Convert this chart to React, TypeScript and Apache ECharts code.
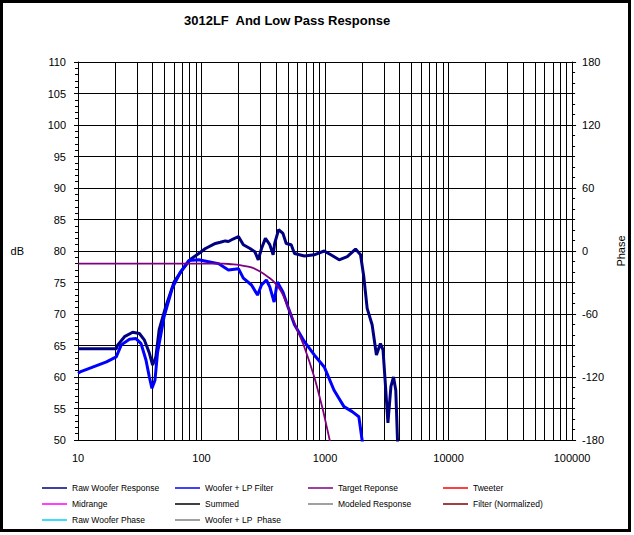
import React, { useEffect, useRef } from "react";
import * as echarts from "echarts";

const TITLE = "3012LF  And Low Pass Response";

const rawFreq = [10, 20.4, 21, 23.8, 27.7, 31.4, 34.4, 37.8, 40.2, 42.7, 45.4, 51.4, 60, 69.9, 81.5, 95, 107.6, 129.5, 142, 155.6, 165, 180, 199, 218, 247, 270, 288, 306, 329, 357, 380, 391, 421, 456, 485, 532, 566, 681, 818, 985, 1114, 1300, 1514, 1766, 1938, 2060, 2193, 2405, 2606, 2806, 2947, 3076, 3230, 3415, 3584, 3738, 3860, 3950];
const rawDb = [64.5, 64.5, 65.1, 66.4, 67.1, 66.9, 65.9, 63.8, 61.9, 63.2, 67.5, 71.2, 75.1, 77, 78.7, 79.6, 80.4, 81.2, 81.4, 81.6, 81.5, 81.9, 82.3, 81, 80.4, 79.9, 78.6, 80.4, 82, 81, 79.4, 81.2, 83.4, 82.8, 81.2, 81, 79.6, 79.2, 79.4, 80, 79.4, 78.6, 79.1, 80.3, 79.4, 75.9, 70.9, 68.3, 63.5, 65.3, 64.3, 59, 52.7, 58.5, 60, 57.9, 50, 45];

const lpFreq = [10, 10.4, 13.3, 17, 20.4, 22.4, 26.1, 29.5, 32.4, 35.5, 37.8, 39.7, 42, 44, 49.8, 58, 67.7, 79, 95, 114, 137, 165, 199, 218, 254, 284, 306, 335, 357, 387, 411, 456, 500, 566, 681, 818, 985, 1183, 1423, 1659, 1878, 1995, 2100];
const lpDb = [60.6, 60.8, 61.6, 62.4, 63.2, 65.1, 66, 66.1, 65.3, 62.7, 60, 58.2, 59.5, 63.8, 69.6, 74.1, 76.7, 78.5, 78.6, 78.3, 78, 77, 77.2, 75.7, 74.6, 73, 74.6, 75.4, 74.3, 71.9, 75.1, 73.5, 71.2, 68.3, 65.6, 63.5, 61.6, 57.9, 55.3, 54.5, 53.7, 50, 47];

const targetFreq = [10, 150, 175, 200, 253, 300, 350, 386, 450, 528, 600, 673, 818, 955, 1000, 1090, 1200];
const targetDb = [78, 78, 77.9, 77.8, 77.4, 76.7, 75.8, 75.1, 73.3, 70, 67.3, 65, 60, 55, 53.3, 50, 46];

const decades = [10, 100, 1000, 10000];
const multiples = [2, 3, 4, 5, 6, 7, 8, 9];

const legendCols = [
  ["Raw Woofer Response", "Midrange", "Raw Woofer Phase"],
  ["Woofer + LP Filter", "Summed", "Woofer + LP  Phase"],
  ["Target Reponse", "Modeled Response"],
  ["Tweeter", "Filter (Normalized)"],
];
const seriesColors: Record<string, string> = {
  "Raw Woofer Response": "#000080",
  "Woofer + LP Filter": "#0000ff",
  "Target Reponse": "#800080",
  "Tweeter": "#ff0000",
  "Midrange": "#ff00ff",
  "Summed": "#000000",
  "Modeled Response": "#808080",
  "Filter (Normalized)": "#800000",
  "Raw Woofer Phase": "#00ccff",
  "Woofer + LP  Phase": "#808080",
};

const FONT = "'Liberation Sans', Arial, sans-serif";

export default function App() {
  const ref = useRef<HTMLDivElement>(null);
  useEffect(() => {
    if (!ref.current) return;
    const chart = echarts.init(ref.current, null, { renderer: "svg" });
    const gridFreqs: number[] = [];
    decades.forEach((d) => multiples.forEach((m) => gridFreqs.push(d * m)));
    const pairs = (xs: number[], ys: number[]) => xs.map((x, i) => [x, ys[i]]);
    const emptyNames = ["Tweeter", "Midrange", "Summed", "Modeled Response", "Filter (Normalized)", "Raw Woofer Phase", "Woofer + LP  Phase"];
    const legendX = [42, 175, 308, 443];
    chart.setOption({
      animation: false,
      backgroundColor: "#ffffff",
      title: {
        text: TITLE,
        left: 184,
        top: 14,
        padding: 0,
        textStyle: { fontFamily: FONT, fontSize: 13, fontWeight: "bold", color: "#000" },
      },
      grid: { left: 78, right: 57, top: 62, bottom: 95 },
      xAxis: {
        type: "log",
        logBase: 10,
        min: 10,
        max: 100000,
        axisLine: { show: true, lineStyle: { color: "#000", width: 1 } },
        axisTick: { show: false },
        axisLabel: {
          color: "#000",
          fontFamily: FONT,
          fontSize: 11,
          margin: 12,
          formatter: (v: number) => String(Math.round(v)),
        },
        splitLine: { show: true, lineStyle: { color: "#000", width: 1 } },
      },
      yAxis: [
        {
          type: "value",
          min: 50,
          max: 110,
          interval: 5,
          name: "dB",
          nameLocation: "middle",
          nameRotate: 0,
          nameGap: 54,
          nameTextStyle: { color: "#000", fontFamily: FONT, fontSize: 11 },
          axisLine: { show: true, lineStyle: { color: "#000", width: 1 } },
          axisTick: { show: true, length: 4, lineStyle: { color: "#000" } },
          minorTick: { show: true, splitNumber: 5, length: 3, lineStyle: { color: "#000" } },
          axisLabel: { color: "#000", fontFamily: FONT, fontSize: 11, margin: 12 },
          splitLine: { show: true, lineStyle: { color: "#000", width: 1 } },
        },
        {
          type: "value",
          position: "right",
          min: -180,
          max: 180,
          interval: 60,
          name: "Phase",
          nameLocation: "middle",
          nameRotate: 90,
          nameGap: 30,
          nameTextStyle: { color: "#000", fontFamily: FONT, fontSize: 11 },
          axisLine: { show: true, lineStyle: { color: "#000", width: 1 } },
          axisTick: { show: true, length: 4, lineStyle: { color: "#000" } },
          minorTick: { show: true, splitNumber: 6, length: 3, lineStyle: { color: "#000" } },
          axisLabel: { color: "#000", fontFamily: FONT, fontSize: 11, margin: 10 },
          splitLine: { show: false },
        },
      ],
      legend: legendCols.map((names, i) => ({
        left: legendX[i],
        top: 480,
        orient: "vertical",
        data: names,
        icon: "rect",
        itemWidth: 25,
        itemHeight: 1.5,
        itemGap: 0,
        padding: 0,
        selectedMode: false,
        textStyle: { color: "#000", fontFamily: FONT, fontSize: 8.5, lineHeight: 16 },
      })),
      graphic: [
        {
          type: "rect",
          shape: { x: 1.5, y: 1.5, width: 628, height: 529 },
          style: { fill: "none", stroke: "#000", lineWidth: 3 },
          silent: true,
          z: 100,
        },
      ],
      series: [
        {
          name: "grid-lines",
          type: "line",
          data: [],
          z: 1,
          silent: true,
          markLine: {
            silent: true,
            z: 1,
            symbol: ["none", "none"],
            label: { show: false },
            lineStyle: { color: "#000", width: 1, type: "solid" },
            emphasis: { disabled: true },
            data: gridFreqs.map((f) => ({ xAxis: f })),
          },
        },
        {
          name: "Raw Woofer Response",
          type: "line",
          data: pairs(rawFreq, rawDb),
          showSymbol: false,
          symbol: "none",
          color: seriesColors["Raw Woofer Response"],
          lineStyle: { width: 3 },
          z: 10,
        },
        {
          name: "Woofer + LP Filter",
          type: "line",
          data: pairs(lpFreq, lpDb),
          showSymbol: false,
          symbol: "none",
          color: seriesColors["Woofer + LP Filter"],
          lineStyle: { width: 3 },
          z: 11,
        },
        {
          name: "Target Reponse",
          type: "line",
          data: pairs(targetFreq, targetDb),
          showSymbol: false,
          symbol: "none",
          smooth: 0.3,
          color: seriesColors["Target Reponse"],
          lineStyle: { width: 1.8 },
          z: 12,
        },
        ...emptyNames.map((n) => ({
          name: n,
          type: "line",
          data: [],
          symbol: "none",
          color: seriesColors[n],
        })),
      ],
    });
    return () => chart.dispose();
  }, []);
  return (
    <div
      ref={ref}
      style={{ position: "fixed", left: 0, top: 0, width: 634, height: 535 }}
    />
  );
}
